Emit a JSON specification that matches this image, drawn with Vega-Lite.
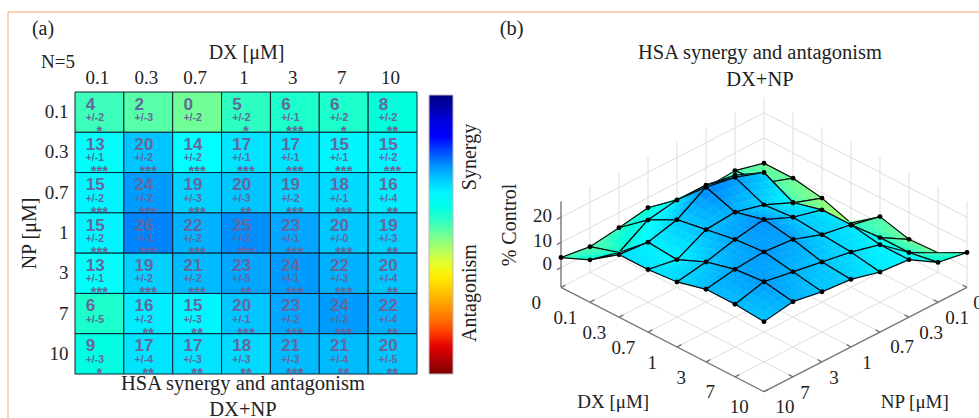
{
"$schema":"https://vega.github.io/schema/vega-lite/v6.json",
"background":"white","padding":0,"autosize":{"type":"pad"},
"bounds":"flush","spacing":88,
"config":{"view":{"stroke":null},"font":"Liberation Serif"},
"datasets":{
"heat":[
{"np":"0.1","dx":"0.1","pct":4,"err":"+/-2","stars":"*"},{"np":"0.1","dx":"0.3","pct":2,"err":"+/-3","stars":""},{"np":"0.1","dx":"0.7","pct":0,"err":"+/-2","stars":""},{"np":"0.1","dx":"1","pct":5,"err":"+/-2","stars":"*"},{"np":"0.1","dx":"3","pct":6,"err":"+/-1","stars":"***"},{"np":"0.1","dx":"7","pct":6,"err":"+/-2","stars":"*"},{"np":"0.1","dx":"10","pct":8,"err":"+/-2","stars":"**"},
{"np":"0.3","dx":"0.1","pct":13,"err":"+/-1","stars":"***"},{"np":"0.3","dx":"0.3","pct":20,"err":"+/-2","stars":"***"},{"np":"0.3","dx":"0.7","pct":14,"err":"+/-2","stars":"***"},{"np":"0.3","dx":"1","pct":17,"err":"+/-1","stars":"***"},{"np":"0.3","dx":"3","pct":17,"err":"+/-1","stars":"***"},{"np":"0.3","dx":"7","pct":15,"err":"+/-1","stars":"***"},{"np":"0.3","dx":"10","pct":15,"err":"+/-2","stars":"***"},
{"np":"0.7","dx":"0.1","pct":15,"err":"+/-2","stars":"***"},{"np":"0.7","dx":"0.3","pct":24,"err":"+/-2","stars":"***"},{"np":"0.7","dx":"0.7","pct":19,"err":"+/-3","stars":"***"},{"np":"0.7","dx":"1","pct":20,"err":"+/-3","stars":"**"},{"np":"0.7","dx":"3","pct":19,"err":"+/-2","stars":"***"},{"np":"0.7","dx":"7","pct":18,"err":"+/-1","stars":"***"},{"np":"0.7","dx":"10","pct":16,"err":"+/-4","stars":"**"},
{"np":"1","dx":"0.1","pct":15,"err":"+/-2","stars":"***"},{"np":"1","dx":"0.3","pct":26,"err":"+/-1","stars":"***"},{"np":"1","dx":"0.7","pct":22,"err":"+/-2","stars":"***"},{"np":"1","dx":"1","pct":25,"err":"+/-2","stars":"***"},{"np":"1","dx":"3","pct":23,"err":"+/-1","stars":"***"},{"np":"1","dx":"7","pct":20,"err":"+/-0","stars":"***"},{"np":"1","dx":"10","pct":19,"err":"+/-3","stars":"**"},
{"np":"3","dx":"0.1","pct":13,"err":"+/-1","stars":"***"},{"np":"3","dx":"0.3","pct":19,"err":"+/-2","stars":"***"},{"np":"3","dx":"0.7","pct":21,"err":"+/-2","stars":"***"},{"np":"3","dx":"1","pct":23,"err":"+/-5","stars":"**"},{"np":"3","dx":"3","pct":24,"err":"+/-1","stars":"***"},{"np":"3","dx":"7","pct":22,"err":"+/-3","stars":"***"},{"np":"3","dx":"10","pct":20,"err":"+/-4","stars":"**"},
{"np":"7","dx":"0.1","pct":6,"err":"+/-5","stars":""},{"np":"7","dx":"0.3","pct":16,"err":"+/-2","stars":"**"},{"np":"7","dx":"0.7","pct":15,"err":"+/-3","stars":"**"},{"np":"7","dx":"1","pct":20,"err":"+/-1","stars":"***"},{"np":"7","dx":"3","pct":23,"err":"+/-2","stars":"***"},{"np":"7","dx":"7","pct":24,"err":"+/-3","stars":"***"},{"np":"7","dx":"10","pct":22,"err":"+/-4","stars":"**"},
{"np":"10","dx":"0.1","pct":9,"err":"+/-3","stars":"*"},{"np":"10","dx":"0.3","pct":17,"err":"+/-4","stars":"**"},{"np":"10","dx":"0.7","pct":17,"err":"+/-3","stars":"**"},{"np":"10","dx":"1","pct":18,"err":"+/-3","stars":"**"},{"np":"10","dx":"3","pct":21,"err":"+/-3","stars":"***"},{"np":"10","dx":"7","pct":21,"err":"+/-4","stars":"**"},{"np":"10","dx":"10","pct":20,"err":"+/-5","stars":"**"}
],
"surface":[
{"id":"0_0","i":0,"j":0,"z":0},{"id":"1_0","i":1,"j":0,"z":0},{"id":"2_0","i":2,"j":0,"z":-2},{"id":"3_0","i":3,"j":0,"z":-6},{"id":"4_0","i":4,"j":0,"z":2.5},{"id":"5_0","i":5,"j":0,"z":-0.6},{"id":"6_0","i":6,"j":0,"z":0},{"id":"7_0","i":7,"j":0,"z":6},
{"id":"0_1","i":0,"j":1,"z":3},{"id":"1_1","i":1,"j":1,"z":4},{"id":"2_1","i":2,"j":1,"z":2},{"id":"3_1","i":3,"j":1,"z":0},{"id":"4_1","i":4,"j":1,"z":5},{"id":"5_1","i":5,"j":1,"z":6},{"id":"6_1","i":6,"j":1,"z":6},{"id":"7_1","i":7,"j":1,"z":8},
{"id":"0_2","i":0,"j":2,"z":2},{"id":"1_2","i":1,"j":2,"z":13},{"id":"2_2","i":2,"j":2,"z":20},{"id":"3_2","i":3,"j":2,"z":14},{"id":"4_2","i":4,"j":2,"z":17},{"id":"5_2","i":5,"j":2,"z":17},{"id":"6_2","i":6,"j":2,"z":15},{"id":"7_2","i":7,"j":2,"z":15},
{"id":"0_3","i":0,"j":3,"z":2},{"id":"1_3","i":1,"j":3,"z":15},{"id":"2_3","i":2,"j":3,"z":24},{"id":"3_3","i":3,"j":3,"z":19},{"id":"4_3","i":4,"j":3,"z":20},{"id":"5_3","i":5,"j":3,"z":19},{"id":"6_3","i":6,"j":3,"z":18},{"id":"7_3","i":7,"j":3,"z":16},
{"id":"0_4","i":0,"j":4,"z":6},{"id":"1_4","i":1,"j":4,"z":15},{"id":"2_4","i":2,"j":4,"z":26},{"id":"3_4","i":3,"j":4,"z":22},{"id":"4_4","i":4,"j":4,"z":25},{"id":"5_4","i":5,"j":4,"z":23},{"id":"6_4","i":6,"j":4,"z":20},{"id":"7_4","i":7,"j":4,"z":19},
{"id":"0_5","i":0,"j":5,"z":4},{"id":"1_5","i":1,"j":5,"z":13},{"id":"2_5","i":2,"j":5,"z":19},{"id":"3_5","i":3,"j":5,"z":21},{"id":"4_5","i":4,"j":5,"z":23},{"id":"5_5","i":5,"j":5,"z":24},{"id":"6_5","i":6,"j":5,"z":22},{"id":"7_5","i":7,"j":5,"z":20},
{"id":"0_6","i":0,"j":6,"z":2.4},{"id":"1_6","i":1,"j":6,"z":6},{"id":"2_6","i":2,"j":6,"z":16},{"id":"3_6","i":3,"j":6,"z":15},{"id":"4_6","i":4,"j":6,"z":20},{"id":"5_6","i":5,"j":6,"z":23},{"id":"6_6","i":6,"j":6,"z":24},{"id":"7_6","i":7,"j":6,"z":22},
{"id":"0_7","i":0,"j":7,"z":4},{"id":"1_7","i":1,"j":7,"z":9},{"id":"2_7","i":2,"j":7,"z":17},{"id":"3_7","i":3,"j":7,"z":17},{"id":"4_7","i":4,"j":7,"z":18},{"id":"5_7","i":5,"j":7,"z":21},{"id":"6_7","i":6,"j":7,"z":21},{"id":"7_7","i":7,"j":7,"z":20}
],
"grid":[
{"g":"a0","i":[0,0],"j":[0,0],"z":[-7.8,26.2]},{"g":"a1","i":[0,0],"j":[1,1],"z":[-7.8,26.2]},{"g":"a2","i":[0,0],"j":[2,2],"z":[-7.8,26.2]},{"g":"a3","i":[0,0],"j":[3,3],"z":[-7.8,26.2]},{"g":"a4","i":[0,0],"j":[4,4],"z":[-7.8,26.2]},{"g":"a5","i":[0,0],"j":[5,5],"z":[-7.8,26.2]},{"g":"a6","i":[0,0],"j":[6,6],"z":[-7.8,26.2]},
{"g":"b1","i":[1,1],"j":[0,0],"z":[-7.8,26.2]},{"g":"b2","i":[2,2],"j":[0,0],"z":[-7.8,26.2]},{"g":"b3","i":[3,3],"j":[0,0],"z":[-7.8,26.2]},{"g":"b4","i":[4,4],"j":[0,0],"z":[-7.8,26.2]},{"g":"b5","i":[5,5],"j":[0,0],"z":[-7.8,26.2]},{"g":"b6","i":[6,6],"j":[0,0],"z":[-7.8,26.2]},{"g":"b7","i":[7,7],"j":[0,0],"z":[-7.8,26.2]},
{"g":"c0","i":[0,0],"j":[0,7],"z":[-7.8,-7.8]},{"g":"c1","i":[1,1],"j":[0,7],"z":[-7.8,-7.8]},{"g":"c2","i":[2,2],"j":[0,7],"z":[-7.8,-7.8]},{"g":"c3","i":[3,3],"j":[0,7],"z":[-7.8,-7.8]},{"g":"c4","i":[4,4],"j":[0,7],"z":[-7.8,-7.8]},{"g":"c5","i":[5,5],"j":[0,7],"z":[-7.8,-7.8]},{"g":"c6","i":[6,6],"j":[0,7],"z":[-7.8,-7.8]},
{"g":"d0","i":[0,7],"j":[0,0],"z":[-7.8,-7.8]},{"g":"d1","i":[0,7],"j":[1,1],"z":[-7.8,-7.8]},{"g":"d2","i":[0,7],"j":[2,2],"z":[-7.8,-7.8]},{"g":"d3","i":[0,7],"j":[3,3],"z":[-7.8,-7.8]},{"g":"d4","i":[0,7],"j":[4,4],"z":[-7.8,-7.8]},{"g":"d5","i":[0,7],"j":[5,5],"z":[-7.8,-7.8]},{"g":"d6","i":[0,7],"j":[6,6],"z":[-7.8,-7.8]},
{"g":"e0","i":[0,0,7],"j":[7,0,0],"z":[0,0,0]},{"g":"e1","i":[0,0,7],"j":[7,0,0],"z":[10,10,10]},{"g":"e2","i":[0,0,7],"j":[7,0,0],"z":[20,20,20]}
],
"axes":[
{"g":"z","i":[0,0],"j":[7,7],"z":[-7.8,26.2]},{"g":"dx","i":[0,7],"j":[7,7],"z":[-7.8,-7.8]},{"g":"np","i":[7,7],"j":[0,7],"z":[-7.8,-7.8]},
{"g":"t0","i":[0,0],"j":[7,7.14],"z":[0,0]},{"g":"t1","i":[0,0],"j":[7,7.14],"z":[10,10]},{"g":"t2","i":[0,0],"j":[7,7.14],"z":[20,20]},
{"g":"x0","i":[0,0],"j":[7,6.85],"z":[-7.8,-7.8]},{"g":"x1","i":[1,1],"j":[7,6.85],"z":[-7.8,-7.8]},{"g":"x2","i":[2,2],"j":[7,6.85],"z":[-7.8,-7.8]},{"g":"x3","i":[3,3],"j":[7,6.85],"z":[-7.8,-7.8]},{"g":"x4","i":[4,4],"j":[7,6.85],"z":[-7.8,-7.8]},{"g":"x5","i":[5,5],"j":[7,6.85],"z":[-7.8,-7.8]},{"g":"x6","i":[6,6],"j":[7,6.85],"z":[-7.8,-7.8]},{"g":"x7","i":[7,7],"j":[7,6.85],"z":[-7.8,-7.8]},
{"g":"y0","i":[7,6.85],"j":[0,0],"z":[-7.8,-7.8]},{"g":"y1","i":[7,6.85],"j":[1,1],"z":[-7.8,-7.8]},{"g":"y2","i":[7,6.85],"j":[2,2],"z":[-7.8,-7.8]},{"g":"y3","i":[7,6.85],"j":[3,3],"z":[-7.8,-7.8]},{"g":"y4","i":[7,6.85],"j":[4,4],"z":[-7.8,-7.8]},{"g":"y5","i":[7,6.85],"j":[5,5],"z":[-7.8,-7.8]},{"g":"y6","i":[7,6.85],"j":[6,6],"z":[-7.8,-7.8]}
],
"labels":[
{"t":"0","i":0,"j":7.85,"z":-9},{"t":"0.1","i":1,"j":7.85,"z":-9},{"t":"0.3","i":2,"j":7.85,"z":-9},{"t":"0.7","i":3,"j":7.85,"z":-9},{"t":"1","i":4,"j":7.85,"z":-9},{"t":"3","i":5,"j":7.85,"z":-9},{"t":"7","i":6,"j":7.85,"z":-9},{"t":"10","i":7,"j":7.85,"z":-9},
{"t":"0","i":7.715,"j":0.335,"z":-7.8},{"t":"0.1","i":7.86,"j":1.2,"z":-7.8},{"t":"0.3","i":7.91,"j":2.15,"z":-7.8},{"t":"0.7","i":7.88,"j":3.12,"z":-7.8},{"t":"1","i":7.815,"j":4.265,"z":-7.8},{"t":"3","i":7.745,"j":5.335,"z":-7.8},{"t":"7","i":7.75,"j":6.34,"z":-7.8},{"t":"10","i":7.875,"j":7.155,"z":-7.8},
{"t":"DX [μM]","i":4.75,"j":9.95,"z":-7.8},{"t":"NP [μM]","i":9.95,"j":4.75,"z":-7.8}
],
"zlabels":[{"t":"20","i":-0.155,"j":7.155,"z":20.3},{"t":"10","i":-0.155,"j":7.155,"z":10.5},{"t":"0","i":-0.155,"j":7.155,"z":1.4}]
},
"hconcat":[
{"width":342,"height":282,
 "layer":[
 {"data":{"values":[{}]},"mark":{"type":"rect","fill":"transparent"},"encoding":{"x":{"value":-75},"x2":{"value":904},"y":{"value":-92},"y2":{"value":326}}},
 {"data":{"values":[{}]},"mark":{"type":"rule","stroke":"#fcc39b","strokeWidth":1.5},"encoding":{"x":{"value":-67},"x2":{"value":904},"y":{"value":-80}}},
 {"data":{"values":[{}]},"mark":{"type":"rule","stroke":"#fcc39b","strokeWidth":1.5},"encoding":{"x":{"value":-67},"y":{"value":-80},"y2":{"value":326}}},
 {"data":{"name":"heat"},
  "encoding":{
   "x":{"field":"dx","type":"ordinal","scale":{"domain":["0.1","0.3","0.7","1","3","7","10"],"paddingInner":0,"paddingOuter":0},"axis":{"orient":"top","title":"DX [μM]","domain":false,"ticks":false,"labelAngle":0,"labelFont":"Liberation Serif","labelFontSize":19,"labelColor":"#222222","labelPadding":5,"labelOffset":-2,"titleFont":"Liberation Serif","titleFontSize":20,"titleFontWeight":"normal","titleColor":"#222222","titlePadding":6}},
   "y":{"field":"np","type":"ordinal","scale":{"domain":["0.1","0.3","0.7","1","3","7","10"],"paddingInner":0,"paddingOuter":0},"axis":{"title":"NP [μM]","domain":false,"ticks":false,"labelFont":"Liberation Serif","labelFontSize":19,"labelColor":"#222222","labelPadding":7,"titleFont":"Liberation Serif","titleFontSize":20,"titleFontWeight":"normal","titleColor":"#222222","titlePadding":5}}},
  "layer":[
  {"mark":{"type":"rect","stroke":"#0c2030","strokeWidth":1},
   "encoding":{"fill":{"field":"pct","type":"quantitative","scale":{"domain":[-50,-37.5,-12.5,14,32,37.5,50],"range":["#800000","#ff0000","#ffff00","#00ffff","#0000ff","#0000ff","#000080"]},
    "legend":{"orient":"none","legendX":354,"legendY":3,"direction":"vertical","gradientLength":279,"gradientThickness":24,"labelOpacity":0,"labelExpr":"''","tickCount":2,"title":null,"gradientStrokeColor":"#bbbbbb","gradientStrokeWidth":1}}}},
  {"mark":{"type":"text","font":"Liberation Sans","fontWeight":"bold","fontSize":17,"align":"left","baseline":"middle","dx":-13.7,"dy":-7.4,"fill":"#66679b"},
   "encoding":{"text":{"field":"pct","type":"quantitative"}}},
  {"mark":{"type":"text","font":"Liberation Sans","fontWeight":"bold","fontSize":10.5,"align":"left","baseline":"middle","dx":-13.7,"dy":6,"fill":"#66679b"},
   "encoding":{"text":{"field":"err","type":"nominal"}}},
  {"mark":{"type":"text","font":"Liberation Sans","fontWeight":"bold","fontSize":15,"align":"center","baseline":"middle","dx":0,"dy":19,"fill":"#66679b"},
   "encoding":{"text":{"field":"stars","type":"nominal"}}}
  ]},
 {"data":{"values":[{"t":"(a)"}]},"mark":{"type":"text","fontSize":20,"font":"Liberation Serif","fill":"#222222","x":-32,"y":-63},"encoding":{"text":{"field":"t"}}},
 {"data":{"values":[{"t":"N=5"}]},"mark":{"type":"text","fontSize":19,"font":"Liberation Serif","fill":"#222222","x":-17,"y":-30},"encoding":{"text":{"field":"t"}}},
 {"data":{"values":[{"t":"HSA synergy and antagonism"}]},"mark":{"type":"text","fontSize":20.5,"font":"Liberation Serif","fill":"#222222","x":168,"y":292},"encoding":{"text":{"field":"t"}}},
 {"data":{"values":[{"t":"DX+NP"}]},"mark":{"type":"text","fontSize":20.5,"font":"Liberation Serif","fill":"#222222","x":168,"y":318},"encoding":{"text":{"field":"t"}}},
 {"data":{"values":[{"t":"Synergy"}]},"mark":{"type":"text","fontSize":20,"font":"Liberation Serif","fill":"#222222","angle":270,"x":395,"y":65},"encoding":{"text":{"field":"t"}}},
 {"data":{"values":[{"t":"Antagonism"}]},"mark":{"type":"text","fontSize":20,"font":"Liberation Serif","fill":"#222222","angle":270,"x":395,"y":201},"encoding":{"text":{"field":"t"}}}
 ]},
{"width":474,"height":326,
 "encoding":{
  "x":{"field":"sx","type":"quantitative","scale":{"domain":[-8.931,7.414],"nice":false,"zero":false},"axis":null},
  "y":{"field":"sy","type":"quantitative","scale":{"domain":[-93.29,36.07],"nice":false,"zero":false},"axis":null}},
 "layer":[
 {"data":{"name":"grid"},
  "transform":[{"flatten":["i","j","z"]},{"calculate":"datum.i-datum.j","as":"sx"},{"calculate":"datum.z+7.8-5.918*(datum.i+datum.j)","as":"sy"}],
  "mark":{"type":"line","stroke":"#e2dcdc","strokeWidth":1},"encoding":{"detail":{"field":"g"}}},
 {"data":{"name":"axes"},
  "transform":[{"flatten":["i","j","z"]},{"calculate":"datum.i-datum.j","as":"sx"},{"calculate":"datum.z+7.8-5.918*(datum.i+datum.j)","as":"sy"}],
  "mark":{"type":"line","stroke":"#777777","strokeWidth":1.4},"encoding":{"detail":{"field":"g"}}},
 {"data":{"name":"surface"},
  "transform":[
   {"filter":"datum.i<7&&datum.j<7"},
   {"calculate":"(datum.i+1)+'_'+datum.j","as":"kR"},
   {"calculate":"datum.i+'_'+(datum.j+1)","as":"kL"},
   {"calculate":"(datum.i+1)+'_'+(datum.j+1)","as":"kB"},
   {"lookup":"kR","from":{"data":{"name":"surface"},"key":"id","fields":["z"]},"as":["zR"]},
   {"lookup":"kL","from":{"data":{"name":"surface"},"key":"id","fields":["z"]},"as":["zL"]},
   {"lookup":"kB","from":{"data":{"name":"surface"},"key":"id","fields":["z"]},"as":["zB"]},
   {"calculate":"[0,1,2,3,4,5,6,7,8,9,10,11,12,13,14,15,16]","as":"cell"},
   {"flatten":["cell"]},
   {"calculate":"datum.cell==16?0:floor(datum.cell/4)/4","as":"a0"},
   {"calculate":"datum.cell==16?0:(datum.cell%4)/4","as":"b0"},
   {"calculate":"datum.cell==16?1:0.25","as":"d"},
   {"calculate":"'q'+datum.id+'_'+datum.cell","as":"qid"},
   {"calculate":"datum.z*(1-datum.a0-datum.d/2)*(1-datum.b0-datum.d/2)+datum.zR*(datum.a0+datum.d/2)*(1-datum.b0-datum.d/2)+datum.zL*(1-datum.a0-datum.d/2)*(datum.b0+datum.d/2)+datum.zB*(datum.a0+datum.d/2)*(datum.b0+datum.d/2)","as":"zc"},
   {"calculate":"[-1,0,1]","as":"p"},
   {"flatten":["p"]},
   {"calculate":"datum.p==1?datum.a0+datum.d:datum.a0","as":"aU"},
   {"calculate":"datum.p==-1?datum.b0+datum.d:datum.b0","as":"bU"},
   {"calculate":"datum.p==-1?datum.a0:datum.a0+datum.d","as":"aL"},
   {"calculate":"datum.p==1?datum.b0:datum.b0+datum.d","as":"bL"},
   {"calculate":"datum.i-datum.j+datum.a0-datum.b0+datum.p*datum.d","as":"sx"},
   {"calculate":"datum.z*(1-datum.aU)*(1-datum.bU)+datum.zR*datum.aU*(1-datum.bU)+datum.zL*(1-datum.aU)*datum.bU+datum.zB*datum.aU*datum.bU+7.8-5.918*(datum.i+datum.j+datum.aU+datum.bU)","as":"sy"},
   {"calculate":"datum.z*(1-datum.aL)*(1-datum.bL)+datum.zR*datum.aL*(1-datum.bL)+datum.zL*(1-datum.aL)*datum.bL+datum.zB*datum.aL*datum.bL+7.8-5.918*(datum.i+datum.j+datum.aL+datum.bL)","as":"sy2"}
  ],
  "mark":{"type":"area","interpolate":"linear","opacity":1},
  "encoding":{
   "y2":{"field":"sy2"},
   "detail":{"field":"qid"},
   "fill":{"field":"zc","type":"quantitative","scale":{"domain":[-50,-37.5,-12.5,14,32,37.5,50],"range":["#800000","#ff0000","#ffff00","#00ffff","#0000ff","#0000ff","#000080"]},"legend":null},
   "fillOpacity":{"condition":{"test":"datum.cell==16","value":0},"value":1},
   "stroke":{"condition":{"test":"datum.cell==16","value":"#0a0a0a"},"field":"zc","type":"quantitative","scale":{"domain":[-50,-37.5,-12.5,14,32,37.5,50],"range":["#800000","#ff0000","#ffff00","#00ffff","#0000ff","#0000ff","#000080"]},"legend":null},
   "strokeWidth":{"condition":{"test":"datum.cell==16","value":1.2},"value":0.5}}},
 {"data":{"name":"surface"},
  "transform":[{"filter":"indexof(['1_1','3_1','3_0','6_0','0_2','0_3','1_6'],datum.id)<0"},{"calculate":"datum.i-datum.j","as":"sx"},{"calculate":"datum.z+7.8-5.918*(datum.i+datum.j)","as":"sy"}],
  "mark":{"type":"circle","size":24,"fill":"#000000","opacity":1}},
 {"data":{"name":"labels"},
  "transform":[{"calculate":"datum.i-datum.j","as":"sx"},{"calculate":"datum.z+7.8-5.918*(datum.i+datum.j)","as":"sy"}],
  "mark":{"type":"text","font":"Liberation Serif","fontSize":19,"fill":"#222222","clip":true},"encoding":{"text":{"field":"t"}}},
 {"data":{"name":"zlabels"},
  "transform":[{"calculate":"datum.i-datum.j","as":"sx"},{"calculate":"datum.z+7.8-5.918*(datum.i+datum.j)","as":"sy"}],
  "mark":{"type":"text","font":"Liberation Serif","fontSize":19,"fill":"#222222","align":"right"},"encoding":{"text":{"field":"t"}}},
 {"data":{"values":[{"t":"(b)","i":-9.5,"j":-0.8,"z":-7.8},{"t":"HSA synergy and antagonism","i":-4.425,"j":-4.285,"z":-7.8},{"t":"DX+NP","i":-3.52,"j":-3.38,"z":-7.8}]},
  "transform":[{"calculate":"datum.i-datum.j","as":"sx"},{"calculate":"datum.z+7.8-5.918*(datum.i+datum.j)","as":"sy"}],
  "mark":{"type":"text","font":"Liberation Serif","fontSize":20.5,"fill":"#222222"},"encoding":{"text":{"field":"t"}}},
 {"data":{"values":[{"t":"% Control","i":-2.97,"j":5.79,"z":-7.8}]},
  "transform":[{"calculate":"datum.i-datum.j","as":"sx"},{"calculate":"datum.z+7.8-5.918*(datum.i+datum.j)","as":"sy"}],
  "mark":{"type":"text","font":"Liberation Serif","fontSize":20,"fill":"#222222","angle":270},"encoding":{"text":{"field":"t"}}}
 ]}
],
"resolve":{"scale":{"fill":"independent","stroke":"independent","x":"independent","y":"independent"}}
}
